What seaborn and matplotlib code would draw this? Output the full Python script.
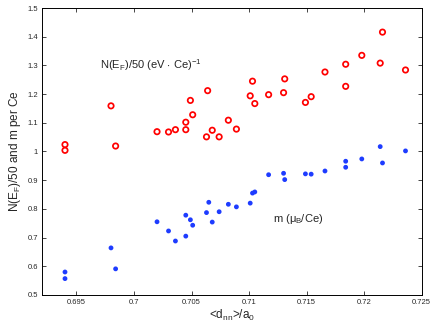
import pandas as pd
import seaborn as sns
import matplotlib.pyplot as plt

# Mean nearest-neighbour distance (in units of a0)
d_nn = [0.6940, 0.6940, 0.6980, 0.6984, 0.7020, 0.7030, 0.7036, 0.7045,
        0.7045, 0.7049, 0.7051, 0.7063, 0.7064, 0.7068, 0.7074, 0.7082,
        0.7089, 0.7101, 0.7103, 0.7105, 0.7117, 0.7130, 0.7131, 0.7149,
        0.7154, 0.7166, 0.7184, 0.7184, 0.7198, 0.7214, 0.7216, 0.7236]

# N(E_F)/50 values (red open circles)
n_ef = [1.024, 1.004, 1.159, 1.019, 1.069, 1.068, 1.076, 1.076,
        1.102, 1.178, 1.128, 1.051, 1.212, 1.074, 1.051, 1.109,
        1.078, 1.194, 1.245, 1.167, 1.198, 1.205, 1.253, 1.171,
        1.191, 1.277, 1.227, 1.304, 1.335, 1.308, 1.416, 1.284]

# Magnetic moment m (blue filled circles)
d_nn_m = [0.6940, 0.6940, 0.6980, 0.6984, 0.7020, 0.7030, 0.7036, 0.7045,
          0.7045, 0.7049, 0.7051, 0.7063, 0.7065, 0.7068, 0.7074, 0.7082,
          0.7089, 0.7101, 0.7103, 0.7105, 0.7117, 0.7130, 0.7131, 0.7149,
          0.7154, 0.7166, 0.7184, 0.7184, 0.7198, 0.7214, 0.7216, 0.7236]
moment = [0.557, 0.580, 0.664, 0.591, 0.755, 0.723, 0.688, 0.778,
          0.705, 0.762, 0.743, 0.787, 0.823, 0.754, 0.790, 0.816,
          0.807, 0.820, 0.855, 0.859, 0.919, 0.924, 0.902, 0.922,
          0.921, 0.932, 0.945, 0.966, 0.974, 1.017, 0.960, 1.002]

df_n = pd.DataFrame({'d': d_nn, 'val': n_ef})
df_m = pd.DataFrame({'d': d_nn_m, 'val': moment})

sns.set_style("ticks")
plt.rcParams['font.family'] = ['Liberation Sans', 'DejaVu Sans']
plt.rcParams['mathtext.fontset'] = 'custom'
plt.rcParams['mathtext.rm'] = 'Liberation Sans'
plt.rcParams['mathtext.it'] = 'Liberation Sans'

fig = plt.figure(figsize=(4.36, 3.27), dpi=100)
ax = fig.add_axes([0.0963, 0.098, 0.8707, 0.8775])

sns.scatterplot(data=df_n, x='d', y='val', ax=ax, marker='o', s=15,
                facecolor='none', edgecolor='#ff0000', linewidth=1.25)
sns.scatterplot(data=df_m, x='d', y='val', ax=ax, marker='o', s=12,
                color='#1e3cff', edgecolor='none')

ax.set_xlim(0.692, 0.725)
ax.set_ylim(0.5, 1.5)
ax.set_xticks([0.695, 0.7, 0.705, 0.71, 0.715, 0.72, 0.725])
ax.set_xticklabels(['0.695', '0.7', '0.705', '0.71', '0.715', '0.72', '0.725'])
ax.set_yticks([0.5, 0.6, 0.7, 0.8, 0.9, 1.0, 1.1, 1.2, 1.3, 1.4, 1.5])
ax.set_yticklabels(['0.5', '0.6', '0.7', '0.8', '0.9', '1', '1.1', '1.2',
                    '1.3', '1.4', '1.5'])
ax.tick_params(direction='in', top=True, right=True, labelsize=5.5,
               length=3, width=0.6, pad=3)
for sp in ax.spines.values():
    sp.set_linewidth(0.7)
    sp.set_color('black')

ax.set_xlabel(r'<d$_{\rm nn}$>/a$_0$', fontsize=8.5, labelpad=1)
ax.set_ylabel(r'N(E$_{\rm F}$)/50 and m per Ce', fontsize=8.5, labelpad=3)

ax.text(0.697, 1.30, r'N(E$_{\rm F}$)/50 (eV $\cdot$ Ce)$^{-1}$',
        fontsize=8, va='center', ha='left')
ax.text(0.7121, 0.764, r'm ($\mu_{\rm B}$/Ce)',
        fontsize=8, va='center', ha='left')

plt.savefig('out.png', dpi=100)
